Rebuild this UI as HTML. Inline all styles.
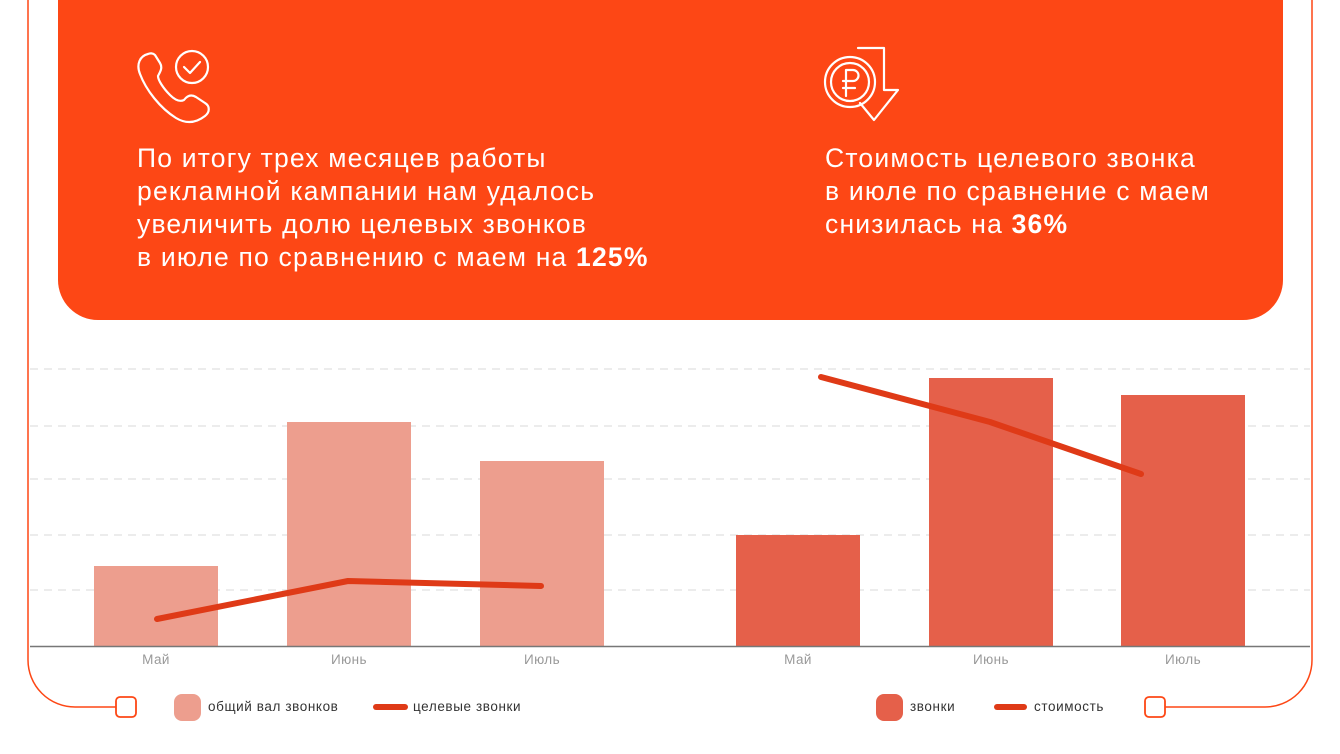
<!DOCTYPE html><html><head><meta charset="utf-8"><style>
body{margin:0;width:1340px;height:754px;background:#fff;overflow:hidden;font-family:"Liberation Sans",sans-serif;position:relative}
.panel{position:absolute;left:58px;top:0;width:1225px;height:320px;background:#FD4715;border-radius:0 0 40px 40px}
.t{position:absolute;color:#fff;font-size:26.5px;line-height:33px;letter-spacing:1.2px}
.t b{font-weight:bold}
.lab{position:absolute;font-size:13.5px;color:#999;width:120px;text-align:center;letter-spacing:0.4px}
.leg{position:absolute;font-size:13.5px;color:#333;letter-spacing:0.6px}
</style></head><body>
<svg width="1340" height="754" style="position:absolute;left:0;top:0">
<path d="M28 0 V660 A47 47 0 0 0 75 707 H116" fill="none" stroke="#FD4715" stroke-width="1.5"/>
<path d="M1312 0 V660 A47 47 0 0 1 1265 707 H1165" fill="none" stroke="#FD4715" stroke-width="1.5"/>
<rect x="116" y="697" width="20" height="20" rx="4" fill="#fff" stroke="#FD4715" stroke-width="1.8"/>
<rect x="1145" y="697" width="20" height="20" rx="4" fill="#fff" stroke="#FD4715" stroke-width="1.8"/>
<g stroke="#e6e6e6" stroke-width="1.5" stroke-dasharray="8,6">
<line x1="30" y1="369" x2="1310" y2="369"/><line x1="30" y1="426" x2="1310" y2="426"/><line x1="30" y1="479" x2="1310" y2="479"/><line x1="30" y1="535" x2="1310" y2="535"/><line x1="30" y1="590" x2="1310" y2="590"/></g>
<g fill="#ED9E8E"><rect x="94" y="566" width="124" height="80"/><rect x="287" y="422" width="124" height="224"/><rect x="480" y="461" width="124" height="185"/></g>
<g fill="#E5604A"><rect x="736" y="535" width="124" height="111"/><rect x="929" y="378" width="124" height="268"/><rect x="1121" y="395" width="124" height="251"/></g>
<line x1="30" y1="646.5" x2="1310" y2="646.5" stroke="#777" stroke-width="1.5"/>
<g fill="none" stroke="#DF3A17" stroke-width="6" stroke-linecap="round" stroke-linejoin="round">
<polyline points="157,619 348,581 541,586"/><polyline points="821,377 990,422 1141,474"/>
<line x1="376" y1="707" x2="405" y2="707"/><line x1="997" y1="707" x2="1024" y2="707"/></g>
<rect x="174" y="694" width="27" height="27" rx="8" fill="#ED9E8E"/>
<rect x="876" y="694" width="27" height="27" rx="8" fill="#E5604A"/>
</svg>
<div class="panel"></div>
<svg width="1340" height="130" style="position:absolute;left:0;top:0" fill="none" stroke="#fff" stroke-width="2.2" stroke-linecap="round" stroke-linejoin="round">
<path d="M148 54 C140 56 136 64 140 74 C146 90 160 108 176 118 C186 124 196 123 205 116 C210 112 210 106 205 103 L196 97 C191 94 187 96 184 100 C180 102 175 100 170 95 C163 88 158 80 158 76 C160 72 163 68 160 63 L155 55 C153 53 150 53 148 54 Z"/>
<circle cx="192" cy="67" r="16"/><path d="M184 67 L190 73 L200 62"/>
<path d="M858 48 H884 V90 H898 L874 120 L860 103"/>
<circle cx="850" cy="82" r="25"/><circle cx="850" cy="82" r="19"/>
<path d="M846 96 V70 H853 A5.5 5.5 0 0 1 853 81 H843 M843 88 H855"/>
</svg>
<div class="t" style="left:137px;top:142px">По итогу трех месяцев работы<br>рекламной кампании нам удалось<br>увеличить долю целевых звонков<br>в июле по сравнению с маем на <b>125%</b></div>
<div class="t" style="left:825px;top:142px">Стоимость целевого звонка<br>в июле по сравнение с маем<br>снизилась на <b>36%</b></div>
<div class="lab" style="left:96px;top:652px">Май</div><div class="lab" style="left:289px;top:652px">Июнь</div><div class="lab" style="left:482px;top:652px">Июль</div>
<div class="lab" style="left:738px;top:652px">Май</div><div class="lab" style="left:931px;top:652px">Июнь</div><div class="lab" style="left:1123px;top:652px">Июль</div>
<div class="leg" style="left:208px;top:699px">общий вал звонков</div>
<div class="leg" style="left:413px;top:699px">целевые звонки</div>
<div class="leg" style="left:910px;top:699px">звонки</div>
<div class="leg" style="left:1034px;top:699px">стоимость</div>
</body></html>
